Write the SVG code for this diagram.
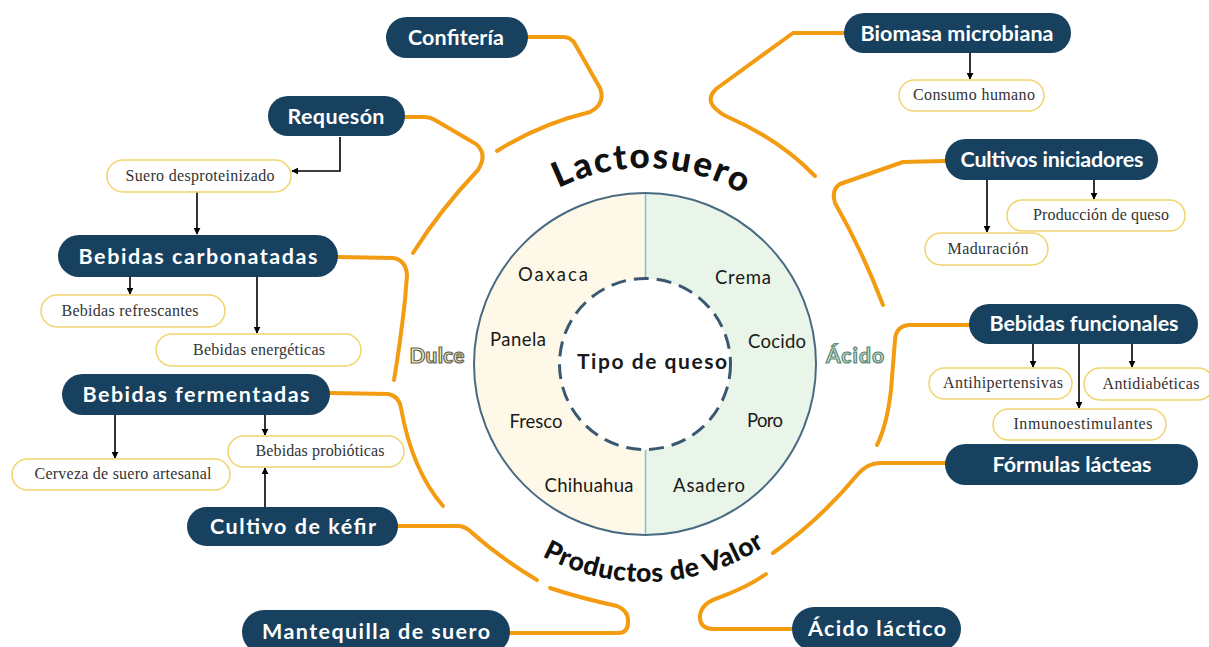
<svg xmlns="http://www.w3.org/2000/svg" width="1209" height="647" viewBox="0 0 1209 647">
<style>
.n{fill:#17415f}
.nt{font-family:Lato,"Liberation Sans",sans-serif;font-weight:bold;font-size:21.5px;fill:#fff;text-anchor:middle}
.s{fill:#fff;stroke:#f2d36b;stroke-width:1.5}
.st{font-family:"Liberation Serif","DejaVu Serif",serif;font-size:16px;fill:#333;text-anchor:middle}
.o{fill:none;stroke:#f39c12;stroke-width:4;stroke-linecap:round;stroke-linejoin:round}
.a{fill:none;stroke:#000;stroke-width:1.6;marker-end:url(#ah)}
.ch{font-family:Lato,"Liberation Sans",sans-serif;font-size:18.5px;fill:#1a1a1a;text-anchor:middle}
</style>
<defs>
<marker id="ah" viewBox="0 0 10 10" refX="9" refY="5" markerWidth="7" markerHeight="7" markerUnits="userSpaceOnUse" orient="auto"><path d="M0,0 L10,5 L0,10 z" fill="#000"/></marker>
<path id="topArc" d="M449,364 A196,196 0 0 1 841,364"/>
<path id="botArc" d="M427,364 A218,218 0 0 0 863,364"/>
</defs>
<rect width="1209" height="647" fill="#fff"/>

<g id="connectors">
<path class="o" d="M528,37 L563,37 Q571,37 575,44 L600,88 Q606,104 590,112 Q540,124 497,151"/>
<path class="o" d="M405,117 L425,117 Q430,117 435,120 L476,144 Q488,154 478,170 Q440,210 413,253"/>
<path class="o" d="M338,257 L393,258 Q406,260 407,275 L405,300 Q400,345 394,380"/>
<path class="o" d="M330,393 L388,394 Q399,396 401,408 Q412,470 443,506"/>
<path class="o" d="M398,526 L458,526 Q464,526 470,531 Q500,558 537,580"/>
<path class="o" d="M510,633 L618,633 Q628,633 628,622 Q629,611 617,606 Q580,598 550,588"/>
<path class="o" d="M844,33 L793,33 L716,89 Q707,98 713,106 Q720,114 730,118 Q780,140 815,176"/>
<path class="o" d="M945,161 L903,162 L840,184 Q831,190 835,203 Q862,250 883,305"/>
<path class="o" d="M969,325 L909,325 Q896,326 895,340 L891,390 Q887,425 877,445"/>
<path class="o" d="M945,463 L880,463 Q868,463 858,474 Q820,520 773,553"/>
<path class="o" d="M792,629 L712,629 Q699,628 700,615 Q702,603 718,598 Q748,587 766,574"/>
<path class="a" d="M340,137 L340,171 L292,171"/>
<path class="a" d="M197,192 L197,234"/>
<path class="a" d="M130,277 L130,294"/>
<path class="a" d="M257,277 L257,333"/>
<path class="a" d="M115,415 L115,458"/>
<path class="a" d="M265,415 L265,435"/>
<path class="a" d="M265,507 L265,468"/>
<path class="a" d="M970,53 L970,79"/>
<path class="a" d="M987,180 L987,232"/>
<path class="a" d="M1094,180 L1094,199"/>
<path class="a" d="M1033,344 L1033,367"/>
<path class="a" d="M1079,344 L1079,408"/>
<path class="a" d="M1132,344 L1132,367"/>
</g>

<g id="center">
<path d="M645,193 A171,171 0 0 0 645,535 Z" fill="#fdf8e7"/>
<path d="M645,193 A171,171 0 0 1 645,535 Z" fill="#e9f5e8"/>
<circle cx="645" cy="364" r="85.5" fill="#fff"/>
<line x1="645.5" y1="193" x2="645.5" y2="278" stroke="#7cc3cf" stroke-width="1.5"/>
<line x1="645.5" y1="450" x2="645.5" y2="535" stroke="#7cc3cf" stroke-width="1.5"/>
<circle cx="645" cy="364" r="171" fill="none" stroke="#4a6a82" stroke-width="2"/>
<circle cx="645" cy="364" r="85.5" fill="none" stroke="#3a5870" stroke-width="3" stroke-dasharray="15 8"/>
<text class="ch" x="553" y="281" textLength="70">Oaxaca</text>
<text class="ch" x="518" y="346" textLength="56">Panela</text>
<text class="ch" x="536" y="428" textLength="53">Fresco</text>
<text class="ch" x="589" y="492" textLength="89">Chihuahua</text>
<text class="ch" x="743" y="284" textLength="56">Crema</text>
<text class="ch" x="777" y="348" textLength="58">Cocido</text>
<text class="ch" x="765" y="427" textLength="36">Poro</text>
<text class="ch" x="709" y="492" textLength="72">Asadero</text>
<text class="ch" x="652" y="369" textLength="150" style="font-weight:bold;font-size:21px">Tipo de queso</text>
</g>

<g id="titles">
<text font-family="Lato,'Liberation Sans',sans-serif" font-weight="900" font-size="35" fill="#111"><textPath href="#topArc" startOffset="314" text-anchor="middle" textLength="192">Lactosuero</textPath></text>
<text font-family="Lato,'Liberation Sans',sans-serif" font-weight="900" font-size="26.5" fill="#111"><textPath href="#botArc" startOffset="352" text-anchor="middle" textLength="234">Productos de Valor</textPath></text>
<text x="437" y="363" font-family="Lato,'Liberation Sans',sans-serif" font-weight="bold" font-size="21" fill="#f4efcf" stroke="#66654a" stroke-width="1.2" text-anchor="middle" textLength="55">Dulce</text>
<text x="855" y="363" font-family="Lato,'Liberation Sans',sans-serif" font-weight="bold" font-size="21" fill="#c9e5cc" stroke="#5e8878" stroke-width="1.2" text-anchor="middle" textLength="58">Ácido</text>
</g>

<g id="confiteria"><rect class="n" x="386" y="17" width="142" height="41" rx="20.5"/><text class="nt" x="456" y="45" textLength="96">Confitería</text></g>
<g id="requeson"><rect class="n" x="268" y="96" width="137" height="40" rx="20"/><text class="nt" x="336" y="124" textLength="97">Requesón</text></g>
<g id="suero"><rect class="s" x="107" y="160" width="184" height="32" rx="16"/><text class="st" x="200" y="181" textLength="149">Suero desproteinizado</text></g>
<g id="carbonatadas"><rect class="n" x="58" y="235" width="280" height="42" rx="21"/><text class="nt" x="198" y="264" textLength="239">Bebidas carbonatadas</text></g>
<g id="refrescantes"><rect class="s" x="41" y="295" width="184" height="32" rx="16"/><text class="st" x="130" y="316" textLength="137">Bebidas refrescantes</text></g>
<g id="energeticas"><rect class="s" x="156" y="334" width="205" height="32" rx="16"/><text class="st" x="259" y="355" textLength="132">Bebidas energéticas</text></g>
<g id="fermentadas"><rect class="n" x="62" y="374" width="268" height="41" rx="20.5"/><text class="nt" x="196" y="402" textLength="227">Bebidas fermentadas</text></g>
<g id="cerveza"><rect class="s" x="12" y="459" width="218" height="31" rx="15.5"/><text class="st" x="123" y="479" textLength="177">Cerveza de suero artesanal</text></g>
<g id="probioticas"><rect class="s" x="228" y="436" width="176" height="31" rx="15.5"/><text class="st" x="320" y="456" textLength="129">Bebidas probióticas</text></g>
<g id="kefir"><rect class="n" x="187" y="507" width="211" height="39" rx="19.5"/><text class="nt" x="293" y="534" textLength="166">Cultivo de kéfir</text></g>
<g id="mantequilla"><rect class="n" x="242" y="610" width="268" height="44" rx="22"/><text class="nt" x="376" y="639" textLength="228">Mantequilla de suero</text></g>
<g id="biomasa"><rect class="n" x="844" y="13" width="227" height="40" rx="20"/><text class="nt" x="957" y="41" textLength="193">Biomasa microbiana</text></g>
<g id="consumo"><rect class="s" x="899" y="80" width="145" height="31" rx="15.5"/><text class="st" x="974" y="100" textLength="122">Consumo humano</text></g>
<g id="cultivos"><rect class="n" x="945" y="139" width="213" height="41" rx="20.5"/><text class="nt" x="1052" y="167" textLength="183">Cultivos iniciadores</text></g>
<g id="produccion"><rect class="s" x="1007" y="200" width="178" height="31" rx="15.5"/><text class="st" x="1101" y="220" textLength="136">Producción de queso</text></g>
<g id="maduracion"><rect class="s" x="925" y="233" width="123" height="32" rx="16"/><text class="st" x="988" y="254" textLength="81">Maduración</text></g>
<g id="funcionales"><rect class="n" x="969" y="304" width="229" height="40" rx="20"/><text class="nt" x="1084" y="331" textLength="189">Bebidas funcionales</text></g>
<g id="antihipertensivas"><rect class="s" x="929" y="368" width="143" height="31" rx="15.5"/><text class="st" x="1003" y="388" textLength="120">Antihipertensivas</text></g>
<g id="antidiabeticas"><rect class="s" x="1084" y="368" width="130" height="32" rx="16"/><text class="st" x="1151" y="389" textLength="97">Antidiabéticas</text></g>
<g id="inmuno"><rect class="s" x="993" y="409" width="173" height="31" rx="15.5"/><text class="st" x="1083" y="429" textLength="139">Inmunoestimulantes</text></g>
<g id="formulas"><rect class="n" x="945" y="444" width="253" height="41" rx="20.5"/><text class="nt" x="1072" y="472" textLength="159">Fórmulas lácteas</text></g>
<g id="acido-lactico"><rect class="n" x="792" y="607" width="169" height="44" rx="22"/><text class="nt" x="877" y="636" textLength="138">Ácido láctico</text></g>
</svg>
